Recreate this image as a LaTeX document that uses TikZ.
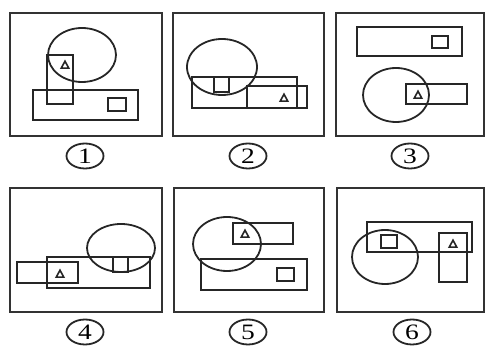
\documentclass[tikz,border=0pt]{standalone}
\usepackage{fontspec}
\setmainfont{Liberation Serif}
\usetikzlibrary{shapes.geometric}
\tikzset{
  frame/.style={draw=black!80, line width=2.4pt},
  shp/.style={draw=black!85, line width=1.8pt},
  tri/.style={draw=black!85, line width=1.6pt, line join=miter},
  numlab/.style={ellipse, draw=black!85, line width=1.8pt, minimum width=37pt, minimum height=25pt, inner sep=0pt,
    font=\fontsize{22}{22}\selectfont}
}
\newcommand{\mytri}[2]{\draw[tri] (#1-3.8,#2+3.2) -- (#1,#2-3.8) -- (#1+3.8,#2+3.2) -- cycle;}
\begin{document}
\begin{tikzpicture}[x=1pt,y=-1pt]
\useasboundingbox (0,0) rectangle (485,347);
% ---------- Panel 1
\draw[frame] (10,13) rectangle (162,136);
\draw[shp] (82,55) ellipse [x radius=34, y radius=27];
\draw[shp] (47,55) rectangle (73,104);
\draw[shp] (33,90) rectangle (138,120);
\draw[shp] (108,98) rectangle (126,111);
\mytri{65}{65}
\node[numlab] (n1) at (85,156) {\scalebox{1.25}[1]{1}};
% ---------- Panel 2
\draw[frame] (173,13) rectangle (324,136);
\draw[shp] (222,67) ellipse [x radius=35, y radius=28];
\draw[shp] (192,77) rectangle (297,108);
\draw[shp] (247,86) rectangle (307,108);
\draw[shp] (214,77) rectangle (229,92);
\mytri{284}{98}
\node[numlab] (n2) at (248,156) {\scalebox{1.25}[1]{2}};
% ---------- Panel 3
\draw[frame] (336,13) rectangle (484,136);
\draw[shp] (357,27) rectangle (462,56);
\draw[shp] (432,36) rectangle (448,48);
\draw[shp] (396,95) ellipse [x radius=33, y radius=27];
\draw[shp] (406,84) rectangle (467,104);
\mytri{418}{95}
\node[numlab] (n3) at (410,156) {\scalebox{1.25}[1]{3}};
% ---------- Panel 4
\draw[frame] (10,188) rectangle (162,312);
\draw[shp] (121,248) ellipse [x radius=34, y radius=24];
\draw[shp] (47,257) rectangle (150,288);
\draw[shp] (17,262) rectangle (78,283);
\draw[shp] (113,257) rectangle (128,272);
\mytri{60}{274}
\node[numlab] (n4) at (85,332) {\scalebox{1.25}[1]{4}};
% ---------- Panel 5
\draw[frame] (174,188) rectangle (324,312);
\draw[shp] (227,244) ellipse [x radius=34, y radius=27];
\draw[shp] (233,223) rectangle (293,244);
\draw[shp] (201,259) rectangle (307,290);
\draw[shp] (277,268) rectangle (294,281);
\mytri{245}{234}
\node[numlab] (n5) at (248,332) {\scalebox{1.25}[1]{5}};
% ---------- Panel 6
\draw[frame] (337,188) rectangle (484,312);
\draw[shp] (367,222) rectangle (472,252);
\draw[shp] (385,257) ellipse [x radius=33, y radius=27];
\draw[shp] (381,235) rectangle (397,248);
\draw[shp] (439,233) rectangle (467,282);
\mytri{453}{244}
\node[numlab] (n6) at (412,332) {\scalebox{1.25}[1]{6}};
\end{tikzpicture}
\end{document}
